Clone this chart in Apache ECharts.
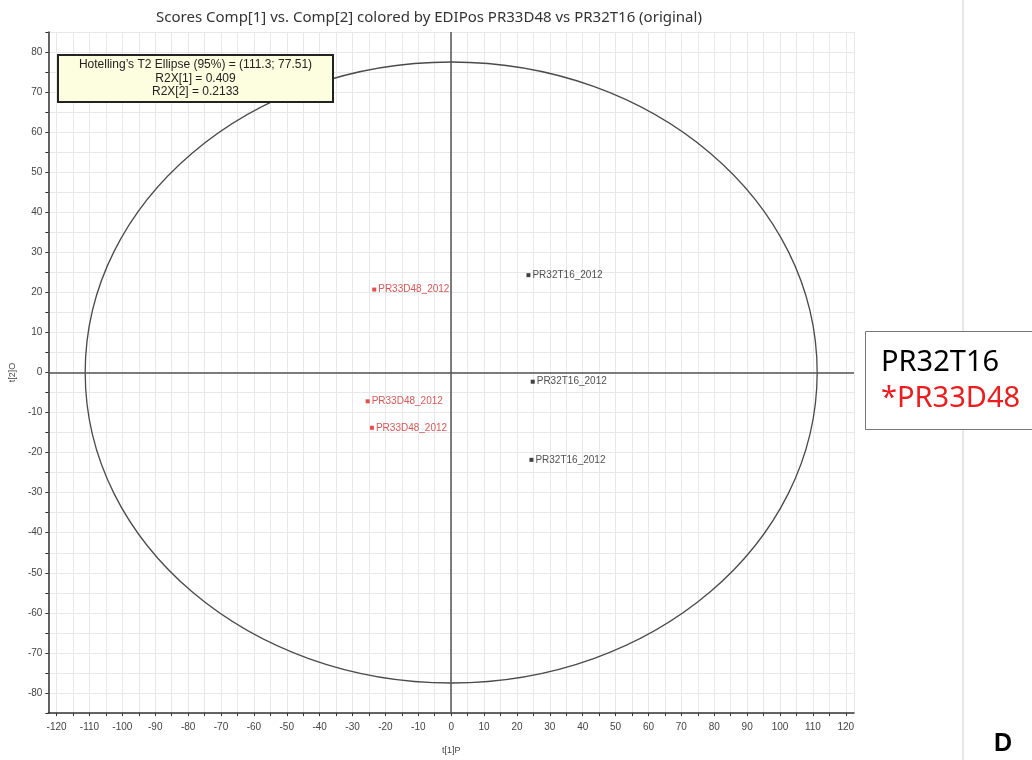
<!DOCTYPE html>
<html>
<head>
<meta charset="utf-8">
<title>Scores Comp[1] vs. Comp[2]</title>
<script src="https://cdn.jsdelivr.net/npm/echarts@6/dist/echarts.min.js"></script>
<style>
    html, body { margin: 0; padding: 0; background: #fff; }
    #scores-chart { width: 1032px; height: 760px; }
</style>
</head>
<body>
<div id="scores-chart"></div>
<script>
var pr32t16X = [23.5, 24.8, 24.4];
var pr32t16Y = [24.3, -2.3, -21.8];
var pr33d48X = [-23.4, -25.4, -24.1];
var pr33d48Y = [20.7, -7.2, -13.8];
var pr32t16Labels = ['PR32T16_2012', 'PR32T16_2012', 'PR32T16_2012'];
var pr33d48Labels = ['PR33D48_2012', 'PR33D48_2012', 'PR33D48_2012'];

// Hotelling's T2 ellipse (95%) half axes and explained variance
var ellipseRadii = [111.3, 77.51];
var r2x = [0.409, 0.2133];

var legendNames = ['PR32T16', '*PR33D48'];

function toPoints(xs, ys, names) {
    var out = [];
    for (var i = 0; i < xs.length; i++) {
        out.push({ value: [xs[i], ys[i]], name: names[i] });
    }
    return out;
}

function scoresChartInit() {

    var chartDom = document.getElementById('scores-chart');
    var myChart = echarts.init(chartDom, null, { renderer: 'canvas' });
    var option;

    var tickLabel = {
        fontSize: 10,
        color: '#444',
        fontFamily: 'Liberation Sans',
        formatter: function (v) { return v % 10 === 0 ? String(v) : ''; }
    };

    option = {
        animation: false,
        backgroundColor: '#fff',
        title: {
            text: 'Scores Comp[1] vs. Comp[2] colored by EDIPos PR33D48 vs PR32T16 (original)',
            left: 424,
            top: 5,
            textAlign: 'center',
            textStyle: {
                fontFamily: 'Noto Sans',
                fontSize: 15,
                fontWeight: 'normal',
                color: '#333'
            }
        },
        grid: {
            left: 46,
            right: 178,
            top: 32,
            bottom: 45
        },
        xAxis: {
            type: 'value',
            min: -122.5,
            max: 122.5,
            splitNumber: 49,
            name: 't[1]P',
            nameLocation: 'middle',
            nameGap: 33,
            nameTextStyle: { fontSize: 9, color: '#444', fontFamily: 'Liberation Sans' },
            axisLine: { show: true, onZero: false, lineStyle: { color: '#333', width: 1.5 } },
            axisTick: { show: true, length: 3, lineStyle: { color: '#333' } },
            axisLabel: Object.assign({ interval: 0, margin: 9, showMinLabel: false, showMaxLabel: false }, tickLabel),
            splitLine: { show: true, lineStyle: { color: '#e8e8e8', width: 1 } }
        },
        yAxis: {
            type: 'value',
            min: -85,
            max: 85,
            interval: 5,
            name: 't[2]O',
            nameLocation: 'middle',
            nameGap: 30,
            nameTextStyle: { fontSize: 9, color: '#444', fontFamily: 'Liberation Sans' },
            axisLine: { show: true, onZero: false, lineStyle: { color: '#333', width: 1.5 } },
            axisTick: { show: true, length: 3, lineStyle: { color: '#333' } },
            axisLabel: Object.assign({ interval: 0, margin: 6 }, tickLabel),
            splitLine: { show: true, lineStyle: { color: '#e8e8e8', width: 1 } }
        },
        series: [
            {
                name: 'T2 ellipse',
                type: 'custom',
                silent: true,
                z: 1,
                data: [[0, 0, ellipseRadii[0], ellipseRadii[1]]],
                renderItem: function (params, api) {
                    var c = api.coord([api.value(0), api.value(1)]);
                    var s = api.size([api.value(2), api.value(3)]);
                    return {
                        type: 'ellipse',
                        shape: { cx: c[0], cy: c[1], rx: s[0], ry: s[1] },
                        style: { fill: 'none', stroke: '#4a4a4a', lineWidth: 1.3 }
                    };
                }
            },
            {
                name: 'PR32T16',
                type: 'scatter',
                symbol: 'rect',
                symbolSize: 4,
                z: 3,
                itemStyle: { color: '#111' },
                label: {
                    show: true,
                    position: 'right',
                    distance: 2,
                    formatter: '{b}',
                    fontSize: 10,
                    fontFamily: 'Liberation Sans',
                    color: '#222'
                },
                data: toPoints(pr32t16X, pr32t16Y, pr32t16Labels),
                markLine: {
                    silent: true,
                    symbol: ['none', 'none'],
                    label: { show: false },
                    lineStyle: { color: '#555', width: 1.5, type: 'solid' },
                    data: [{ xAxis: 0 }, { yAxis: 0 }]
                }
            },
            {
                name: 'PR33D48',
                type: 'scatter',
                symbol: 'rect',
                symbolSize: 4,
                z: 3,
                itemStyle: { color: '#e0201f' },
                label: {
                    show: true,
                    position: 'right',
                    distance: 2,
                    formatter: '{b}',
                    fontSize: 10,
                    fontFamily: 'Liberation Sans',
                    color: '#d42a2a'
                },
                data: toPoints(pr33d48X, pr33d48Y, pr33d48Labels)
            }
        ],
        graphic: {
            elements: [
                {
                    type: 'rect',
                    zlevel: 2,
                    z: 100,
                    shape: { x: 58, y: 55, width: 275, height: 47 },
                    style: { fill: '#fdfde0', stroke: '#222', lineWidth: 2 }
                },
                {
                    type: 'text',
                    zlevel: 2,
                    z: 101,
                    x: 195.5,
                    y: 58,
                    style: {
                        text: 'Hotelling\u2019s T2 Ellipse (95%) = (' + ellipseRadii[0] + '; ' + ellipseRadii[1] + ')\n' +
                            'R2X[1] = ' + r2x[0] + '\nR2X[2] = ' + r2x[1],
                        align: 'center',
                        verticalAlign: 'top',
                        lineHeight: 13.5,
                        font: '12px "Liberation Sans"',
                        fill: '#222'
                    }
                },
                {
                    type: 'line',
                    zlevel: 2,
                    z: 90,
                    shape: { x1: 963, y1: 0, x2: 963, y2: 760 },
                    style: { stroke: '#cfcfcf', lineWidth: 1 }
                },
                {
                    type: 'rect',
                    zlevel: 2,
                    z: 100,
                    shape: { x: 865.5, y: 331.5, width: 180, height: 98 },
                    style: { fill: '#fff', stroke: '#777', lineWidth: 1 }
                },
                {
                    type: 'text',
                    zlevel: 2,
                    z: 101,
                    x: 881,
                    y: 363,
                    style: {
                        text: legendNames[0],
                        verticalAlign: 'middle',
                        font: '29px "Noto Sans"',
                        fill: '#000'
                    }
                },
                {
                    type: 'text',
                    zlevel: 2,
                    z: 101,
                    x: 881,
                    y: 399,
                    style: {
                        text: legendNames[1],
                        verticalAlign: 'middle',
                        font: '29px "Noto Sans"',
                        fill: '#ee1c1c'
                    }
                },
                {
                    type: 'text',
                    zlevel: 2,
                    z: 101,
                    x: 1003,
                    y: 744,
                    style: {
                        text: 'D',
                        align: 'center',
                        verticalAlign: 'middle',
                        font: 'bold 25px "Liberation Sans"',
                        fill: '#000'
                    }
                }
            ]
        }
    };

    option && myChart.setOption(option);

}

scoresChartInit();
</script>
</body>
</html>
